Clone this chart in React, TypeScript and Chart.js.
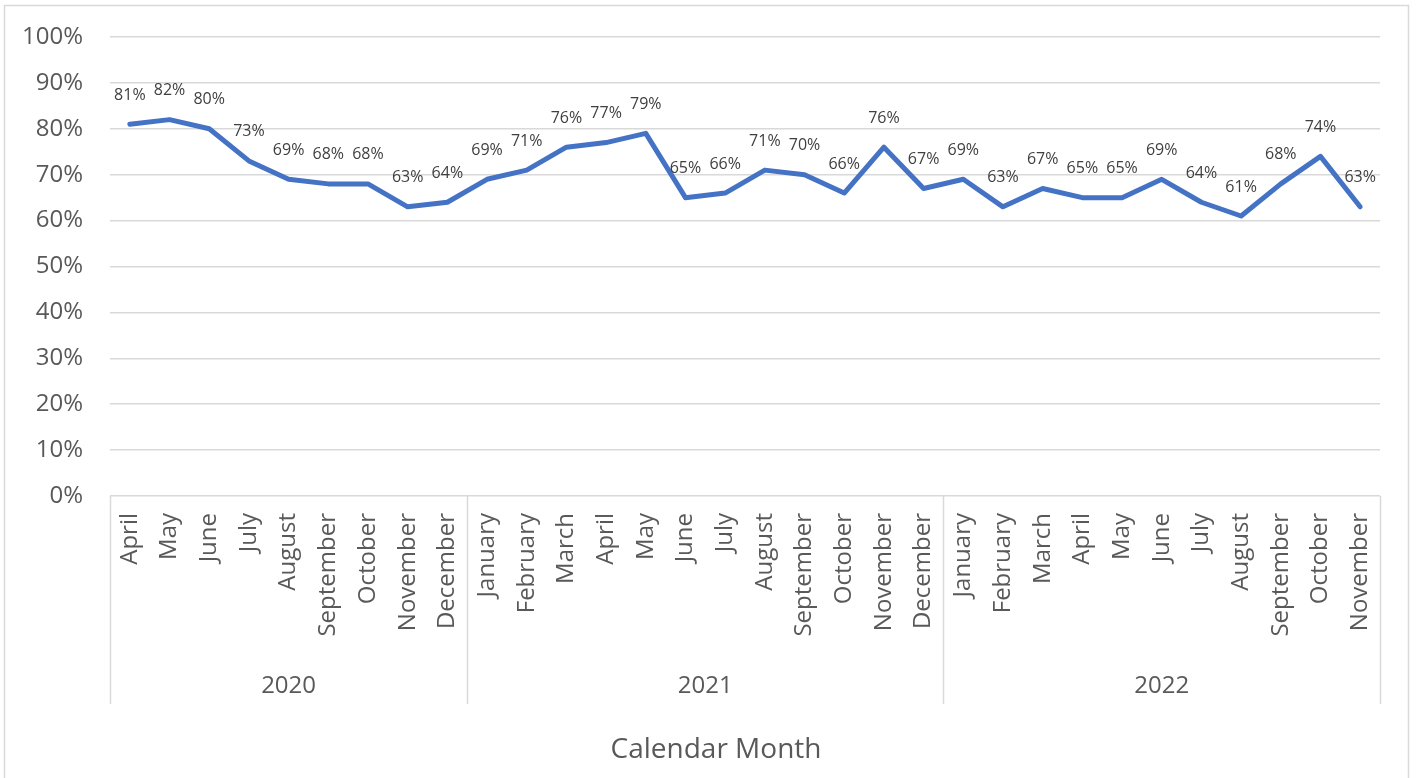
import React, { useEffect, useRef } from "react";
import { Chart, registerables } from "chart.js";

Chart.register(...registerables);

const months2020 = ["April", "May", "June", "July", "August", "September", "October", "November", "December"];
const values2020 = [81, 82, 80, 73, 69, 68, 68, 63, 64];
const months2021 = ["January", "February", "March", "April", "May", "June", "July", "August", "September", "October", "November", "December"];
const values2021 = [69, 71, 76, 77, 79, 65, 66, 71, 70, 66, 76, 67];
const months2022 = ["January", "February", "March", "April", "May", "June", "July", "August", "September", "October", "November"];
const values2022 = [69, 63, 67, 65, 65, 69, 64, 61, 68, 74, 63];
const yearLabels = ["2020", "2021", "2022"];
const yTicks = [0, 10, 20, 30, 40, 50, 60, 70, 80, 90, 100];
const axisTitle = "Calendar Month";

const FONT = "'Open Sans', 'DejaVu Sans', sans-serif";
const TEXT = "#595959";
const GRID = "#d9d9d9";

export default function App() {
  const ref = useRef<HTMLCanvasElement | null>(null);

  useEffect(() => {
    const canvas = ref.current;
    if (!canvas) return;
    const groups = [months2020, months2021, months2022];
    const labels = [...months2020, ...months2021, ...months2022];
    const values = [...values2020, ...values2021, ...values2022];

    const overlay = {
      id: "overlay",
      afterDraw(chart: any) {
        const ctx = chart.ctx as CanvasRenderingContext2D;
        const xs = chart.scales.x;
        const area = chart.chartArea;
        ctx.save();
        // outer border
        ctx.strokeStyle = GRID;
        ctx.lineWidth = 1.5;
        ctx.strokeRect(4.5, 5.5, 1404, 790);

        // data labels
        const meta = chart.getDatasetMeta(0);
        ctx.fillStyle = "#404040";
        ctx.font = `16px ${FONT}`;
        ctx.textAlign = "center";
        ctx.textBaseline = "middle";
        meta.data.forEach((pt: any, i: number) => {
          ctx.fillText(values[i] + "%", pt.x, pt.y - 29);
        });

        // month labels
        ctx.fillStyle = TEXT;
        ctx.font = `24px ${FONT}`;
        labels.forEach((lab, i) => {
          const x = xs.getPixelForValue(i);
          ctx.save();
          ctx.translate(x, area.bottom + 17);
          ctx.rotate(-Math.PI / 2);
          ctx.textAlign = "right";
          ctx.textBaseline = "middle";
          ctx.fillText(lab, 0, 0);
          ctx.restore();
        });

        // group separators and year labels
        const half = (xs.getPixelForValue(1) - xs.getPixelForValue(0)) / 2;
        let start = 0;
        ctx.strokeStyle = GRID;
        ctx.lineWidth = 1.5;
        const bounds: number[] = [area.left];
        groups.forEach((g, gi) => {
          const end = start + g.length - 1;
          const left = xs.getPixelForValue(start) - half;
          const right = xs.getPixelForValue(end) + half;
          bounds.push(right);
          ctx.textAlign = "center";
          ctx.textBaseline = "middle";
          ctx.font = `24px ${FONT}`;
          ctx.fillText(yearLabels[gi], (left + right) / 2, 686);
          start += g.length;
        });
        bounds.forEach((b) => {
          const bx = Math.round(b) + 0.5;
          ctx.beginPath();
          ctx.moveTo(bx, area.bottom);
          ctx.lineTo(bx, 704);
          ctx.stroke();
        });

        // axis title
        ctx.font = `28px ${FONT}`;
        ctx.textAlign = "center";
        ctx.textBaseline = "middle";
        ctx.fillText(axisTitle, 716, 750);
        ctx.restore();
      },
    };

    const chart = new Chart(canvas, {
      type: "line",
      data: {
        labels,
        datasets: [
          {
            data: values,
            borderColor: "#4472C4",
            borderWidth: 5,
            pointRadius: 0,
            pointHoverRadius: 0,
            tension: 0,
            borderCapStyle: "round",
            borderJoinStyle: "round",
            fill: false,
          },
        ],
      },
      options: {
        responsive: false,
        animation: false,
        layout: { padding: { top: 37, right: 36, left: 0, bottom: 0 } },
        plugins: { legend: { display: false }, tooltip: { enabled: false } },
        scales: {
          x: {
            type: "category",
            offset: true,
            grid: { display: false },
            border: { display: false },
            ticks: { display: false },
            afterFit: (s: any) => {
              s.height = 282;
              s.paddingLeft = 0;
              s.paddingRight = 0;
            },
          },
          y: {
            min: 0,
            max: 100,
            afterBuildTicks: (s: any) => {
              s.ticks = yTicks.map((v) => ({ value: v }));
            },
            ticks: {
              stepSize: 10,
              padding: 27,
              color: TEXT,
              font: { family: FONT, size: 24 },
              callback: (v: any) => v + "%",
            },
            grid: { color: GRID, lineWidth: 1.5, drawTicks: false },
            border: { display: false },
            afterFit: (s: any) => {
              s.width = 110;
              s.paddingTop = 0;
              s.paddingBottom = 0;
            },
          },
        },
      },
      plugins: [overlay],
    });
    return () => chart.destroy();
  }, []);

  return (
    <div style={{ position: "fixed", left: 0, top: 0, width: 1416, height: 778, background: "#fff" }}>
      <canvas ref={ref} width={1416} height={778} style={{ display: "block" }} />
    </div>
  );
}
